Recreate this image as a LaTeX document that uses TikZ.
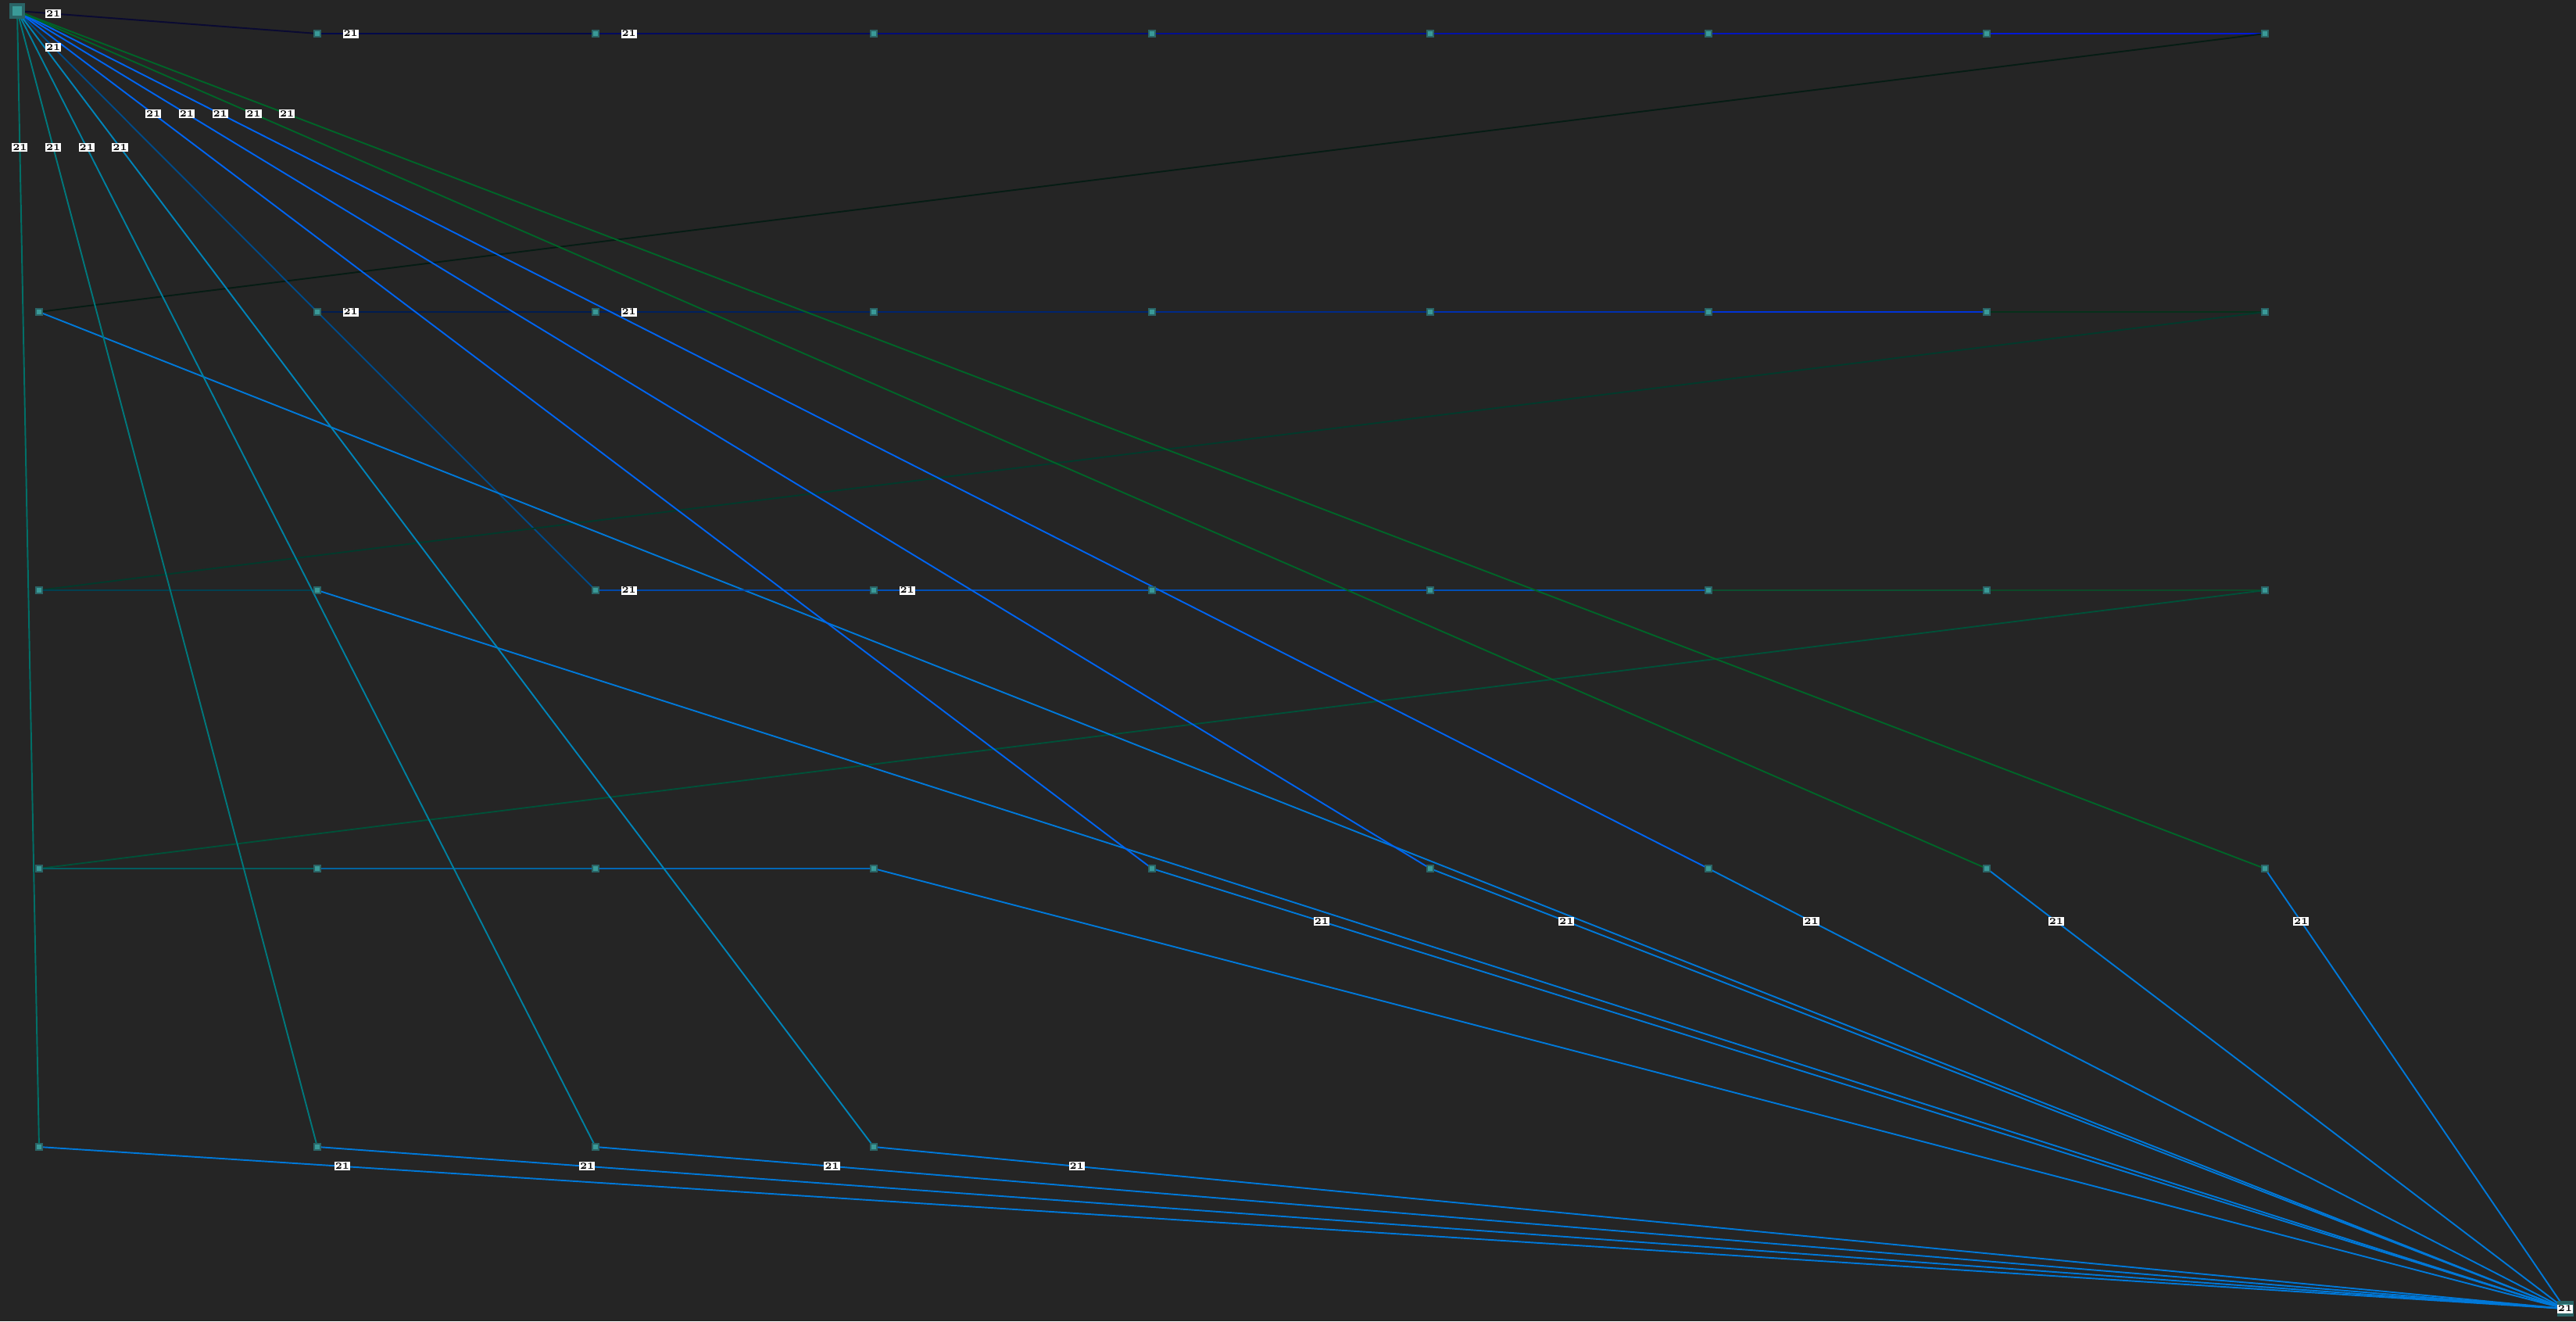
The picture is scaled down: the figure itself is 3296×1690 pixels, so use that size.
\documentclass[tikz,border=0pt]{standalone}
\usepackage{tikz}
\usetikzlibrary{positioning}
\pgfdeclarelayer{backdrop}
\pgfdeclarelayer{edges}
\pgfsetlayers{backdrop,edges,main}

\definecolor{bgdark}{HTML}{252525}
\definecolor{cellfill}{HTML}{3A9A98}
\definecolor{celledge}{HTML}{2A6466}
\definecolor{navyA}{HTML}{0A0A32}
\definecolor{topA}{HTML}{00084A}
\definecolor{topB}{HTML}{000A60}
\definecolor{topC}{HTML}{000C78}
\definecolor{topD}{HTML}{000F90}
\definecolor{topE}{HTML}{0012A8}
\definecolor{topF}{HTML}{0015C0}
\definecolor{topG}{HTML}{0018D8}
\definecolor{midA}{HTML}{001C50}
\definecolor{midB}{HTML}{00205E}
\definecolor{midC}{HTML}{00246E}
\definecolor{midD}{HTML}{002A88}
\definecolor{midE}{HTML}{0030B0}
\definecolor{midF}{HTML}{0034D8}
\definecolor{midG}{HTML}{06301A}
\definecolor{lowA}{HTML}{0048A8}
\definecolor{lowB}{HTML}{0050B8}
\definecolor{lowC}{HTML}{0C4E30}
\definecolor{lowD}{HTML}{0C4828}
\definecolor{backA}{HTML}{061C14}
\definecolor{backB}{HTML}{023A2C}
\definecolor{backC}{HTML}{005038}
\definecolor{dimblue}{HTML}{004A88}
\definecolor{darkteal}{HTML}{004050}
\definecolor{fanblue}{HTML}{0064F0}
\definecolor{fangreen}{HTML}{006428}
\definecolor{tealA}{HTML}{007068}
\definecolor{tealB}{HTML}{00787C}
\definecolor{tealC}{HTML}{0080A0}
\definecolor{tealD}{HTML}{0084B8}
\definecolor{rowA}{HTML}{005C60}
\definecolor{rowB}{HTML}{0064A0}
\definecolor{rowC}{HTML}{0068B8}
\definecolor{sinkblue}{HTML}{0078D8}

\begin{document}
\begin{tikzpicture}[x=0.01cm, y=-0.01cm,
    cell/.style={draw=celledge, fill=cellfill, line width=0.6pt, minimum size=0.08cm, inner sep=0pt},
    endcell/.style={cell, line width=1.4pt, minimum size=0.16cm},
    edge/.style={line width=0.55pt},
    lbl/.style={fill=white, text=black, inner sep=0.3pt, minimum size=0.11cm,
        font=\fontsize{3.4}{4}\selectfont\bfseries}]
    \def\raster{356}
    \def\xoff{50}
    \def\yoff{43}

    % background
    \begin{pgfonlayer}{backdrop}
        \fill[bgdark] (0,0) rectangle (3296,1690);
    \end{pgfonlayer}
    \useasboundingbox (0,0) rectangle (3296,1690);

    % grid cells, row by row
    \foreach \r/\cmin/\cmax in {0/1/8, 1/0/8, 2/0/8, 3/0/8, 4/0/3}
    {
        \foreach \c in {\cmin,...,\cmax}
            \node[cell] (n\r\c) at (\xoff+\c*\raster, \yoff+\r*\raster) {};
    }

    % source and sink
    \node[endcell] (src) at (22,14) {};
    \node[endcell, label={[lbl]center:21}] (snk) at (3282,1674) {};

    % plain edges
    \foreach \from/\to/\co in {
        n03/n04/topC, n04/n05/topD, n05/n06/topE, n06/n07/topF, n07/n08/topG,
        n13/n14/midC, n14/n15/midD, n15/n16/midE, n16/n17/midF, n17/n18/midG,
        n24/n25/lowB, n25/n26/lowB, n26/n27/lowC, n27/n28/lowD,
        n11/n22/dimblue,
        n10/n08/backA, n20/n18/backB, n30/n28/backC,
        n20/n21/darkteal, n30/n31/rowA, n31/n32/rowB, n32/n33/rowC,
        n10/snk/sinkblue, n21/snk/sinkblue, n33/snk/sinkblue}{

        \begin{pgfonlayer}{edges}
            \draw[edge, \co] (\from.center) -- (\to.center);
        \end{pgfonlayer}
    }

    % labelled edges
    \foreach \from/\to/\co in {
        src/n01/navyA, n01/n02/topA, n02/n03/topB,
        src/n11/dimblue, n11/n12/midA, n12/n13/midB,
        n22/n23/lowA, n23/n24/lowB,
        src/n34/fanblue, src/n35/fanblue, src/n36/fanblue,
        src/n37/fangreen, src/n38/fangreen,
        src/n40/tealA, src/n41/tealB, src/n42/tealC, src/n43/tealD,
        n34/snk/sinkblue, n35/snk/sinkblue, n36/snk/sinkblue,
        n37/snk/sinkblue, n38/snk/sinkblue,
        n40/snk/sinkblue, n41/snk/sinkblue, n42/snk/sinkblue, n43/snk/sinkblue}{

        \begin{pgfonlayer}{edges}
            \draw[edge, \co] (\from.center) -- (\to.center);
        \end{pgfonlayer}
        \path (\from.center) -- (\to.center) node[lbl, pos=0.12] {21};
    }
\end{tikzpicture}
\end{document}
